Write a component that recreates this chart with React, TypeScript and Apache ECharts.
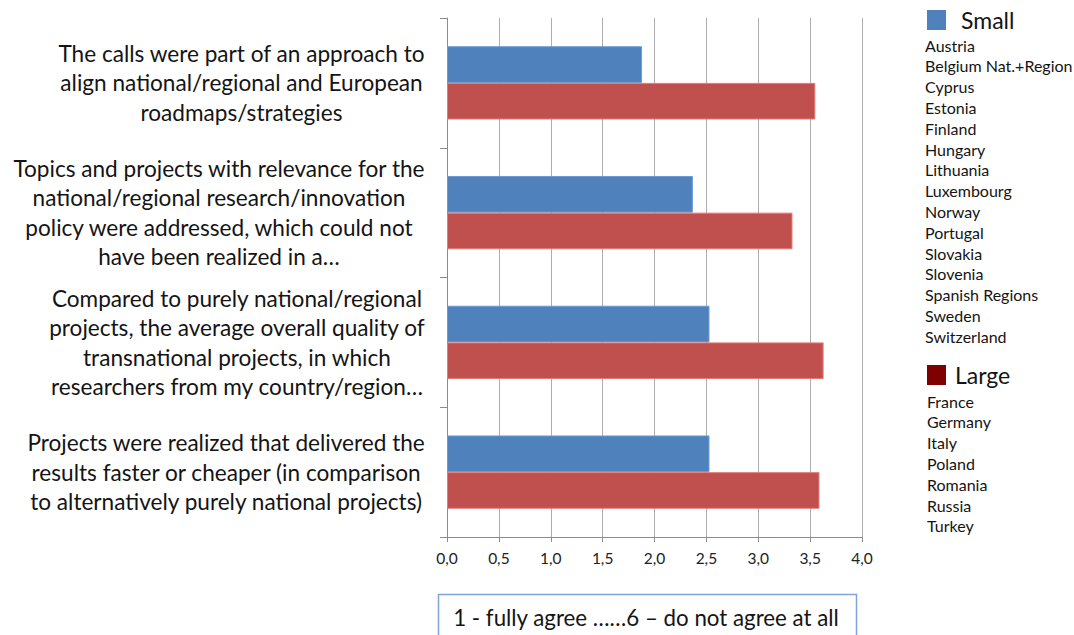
import React, { useEffect, useRef } from "react";
import * as echarts from "echarts";

const categories: string[] = [
  "The calls were part of an approach to\nalign national/regional and European\nroadmaps/strategies",
  "Topics and projects with relevance for the\nnational/regional research/innovation\npolicy were addressed, which could not\nhave been realized in a…",
  "Compared to purely national/regional\nprojects, the average overall quality of\ntransnational projects, in which\nresearchers from my country/region…",
  "Projects were realized that delivered the\nresults faster or cheaper (in comparison\nto alternatively purely national projects)",
];
const smallValues: number[] = [1.88, 2.37, 2.53, 2.53];
const largeValues: number[] = [3.55, 3.33, 3.63, 3.59];
const smallCountries: string[] = [
  "Austria", "Belgium Nat.+Region", "Cyprus", "Estonia", "Finland", "Hungary",
  "Lithuania", "Luxembourg", "Norway", "Portugal", "Slovakia", "Slovenia",
  "Spanish Regions", "Sweden", "Switzerland",
];
const largeCountries: string[] = ["France", "Germany", "Italy", "Poland", "Romania", "Russia", "Turkey"];
const scaleNote = "1 - fully agree ……6 – do not agree at all";

const FONT = "Lato";
const TXT = "#141414";

export default function App() {
  const ref = useRef<HTMLDivElement>(null);
  useEffect(() => {
    if (!ref.current) return;
    const chart = echarts.init(ref.current, undefined, { renderer: "svg" });

    const graphics: any[] = [];
    const mid = (x: number, y: number, text: string, size: number, align = "left") => ({
      type: "text", x, y,
      style: { text, font: `${size}px ${FONT}`, fill: TXT, textAlign: align, textVerticalAlign: "middle" },
    });
    // legend: Small
    graphics.push({ type: "rect", shape: { x: 927, y: 10, width: 19, height: 20 }, style: { fill: "#4F81BD" } });
    graphics.push(mid(961, 20, "Small", 23));
    smallCountries.forEach((c, i) => graphics.push(mid(925, 45 + i * 20.8, c, 16)));
    // legend: Large
    graphics.push({ type: "rect", shape: { x: 927, y: 365, width: 19, height: 20 }, style: { fill: "#7F0000" } });
    graphics.push(mid(955, 375, "Large", 23));
    largeCountries.forEach((c, i) => graphics.push(mid(927, 401 + i * 20.8, c, 16)));
    // scale note box
    graphics.push({
      type: "rect", shape: { x: 438.5, y: 594.5, width: 418, height: 60 },
      style: { fill: "#fff", stroke: "#7EA4D9", lineWidth: 1.5 },
    });
    graphics.push(mid(646, 617, scaleNote, 22.3, "center"));

    const rich: any = { c: { align: "center", fontFamily: FONT, fontSize: 22.6, lineHeight: 29.5, color: TXT } };

    chart.setOption({
      animation: false,
      backgroundColor: "#fff",
      grid: { left: 447, right: 212, top: 18, bottom: 98, containLabel: false },
      xAxis: {
        type: "value",
        min: 0,
        max: 4,
        interval: 0.5,
        axisLine: { show: true, lineStyle: { color: "#8C8C8C", width: 1 } },
        axisTick: { show: true, length: 5, lineStyle: { color: "#8C8C8C" } },
        splitLine: { show: true, lineStyle: { color: "#ADADAD", width: 1 } },
        axisLabel: {
          margin: 13,
          fontFamily: FONT,
          fontSize: 15.5,
          color: "#222",
          formatter: (v: number) => v.toFixed(1).replace(".", ","),
        },
      },
      yAxis: {
        type: "category",
        inverse: true,
        data: categories,
        axisLine: { show: true, lineStyle: { color: "#8C8C8C", width: 1 } },
        axisTick: { show: true, length: 7, lineStyle: { color: "#8C8C8C" } },
        axisLabel: {
          margin: 22,
          align: "right",
          formatter: (v: string) => v.split("\n").map((l) => `{c|${l}}`).join("\n"),
          rich,
          lineHeight: 29.5,
        },
      },
      series: [
        {
          name: "Small",
          type: "bar",
          data: smallValues,
          barGap: "0%",
          barCategoryGap: "43.5%",
          itemStyle: { color: "#4F81BD", borderColor: "#6E9AD4", borderWidth: 1 },
        },
        {
          name: "Large",
          type: "bar",
          data: largeValues,
          barGap: "0%",
          barCategoryGap: "43.5%",
          itemStyle: { color: "#C0504D", borderColor: "#E27A77", borderWidth: 1 },
        },
      ],
      graphic: graphics,
    });
    return () => chart.dispose();
  }, []);
  return <div ref={ref} style={{ position: "fixed", left: 0, top: 0, width: 1074, height: 635, background: "#fff" }} />;
}
